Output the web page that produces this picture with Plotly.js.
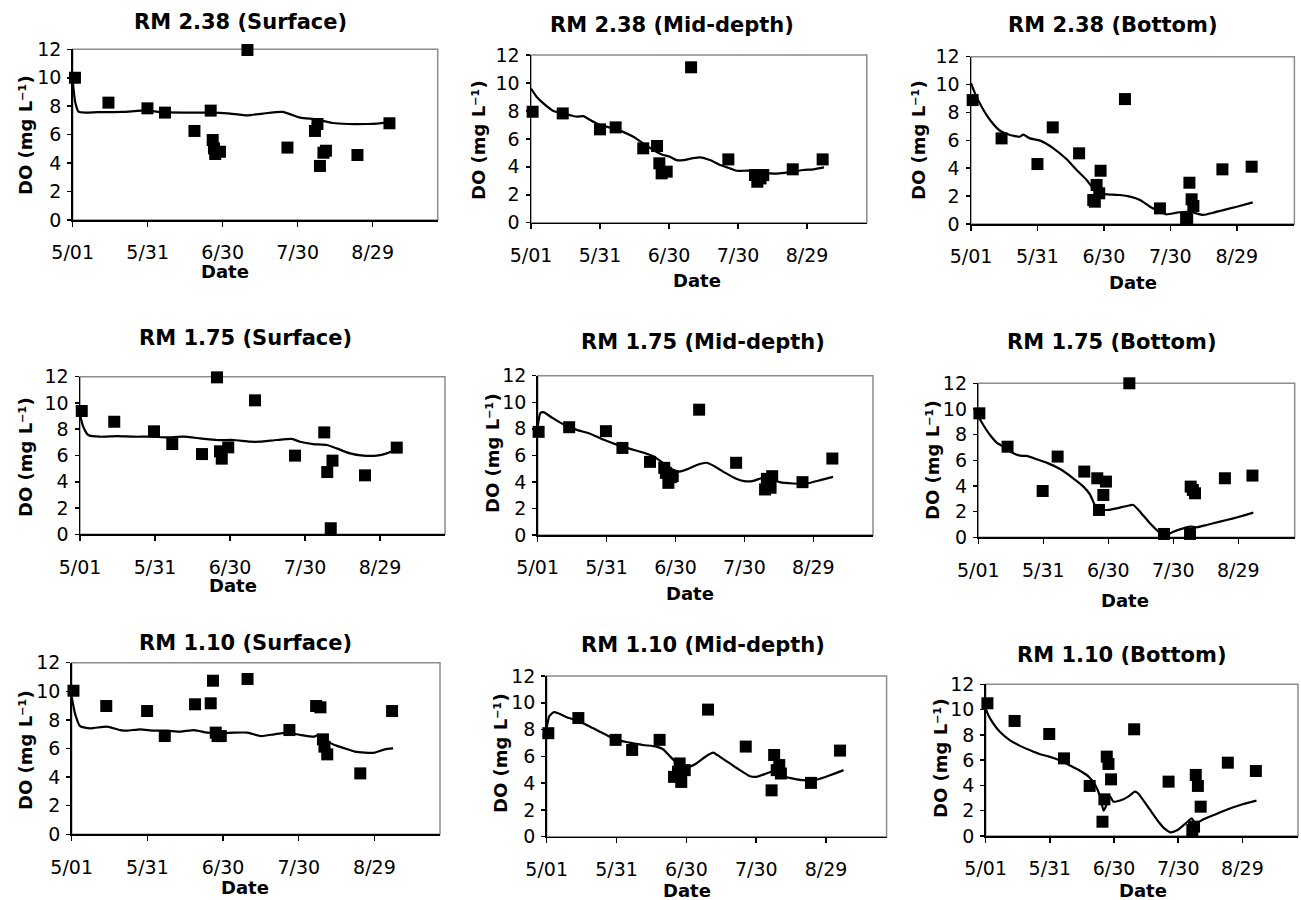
<!DOCTYPE html>
<html>
<head>
<meta charset="utf-8">
<script src="https://cdn.plot.ly/plotly-3.0.1.min.js"></script>
<style>html,body{margin:0;padding:0;background:#fff;}#chart{width:1301px;height:900px;}</style>
</head>
<body>
<div id="chart"></div>
<script>
// ---------- DATA (x = days after 5/01) ----------
const titles = ["RM 2.38 (Surface)", "RM 2.38 (Mid-depth)", "RM 2.38 (Bottom)",
                "RM 1.75 (Surface)", "RM 1.75 (Mid-depth)", "RM 1.75 (Bottom)",
                "RM 1.10 (Surface)", "RM 1.10 (Mid-depth)", "RM 1.10 (Bottom)"];
const tickDays = [0, 30, 60, 90, 120];
const tickText = ["5/01", "5/31", "6/30", "7/30", "8/29"];
const yTicks = [0, 2, 4, 6, 8, 10, 12];
const xTitle = "Date";
const yTitle = "DO (mg L\u207B\u00B9)";

// RM 2.38 Surface
const p1ObsDay = [0.9, 14.3, 29.9, 36.9, 48.7, 55.2, 56.0, 56.5, 57.0, 58.9, 69.9, 85.9, 96.9, 97.9, 98.9, 100.3, 101.3, 113.9, 126.7];
const p1ObsDO  = [10.0, 8.25, 7.85, 7.55, 6.26, 7.69, 5.62, 5.04, 4.64, 4.8, 11.95, 5.09, 6.26, 6.75, 3.8, 4.73, 4.87, 4.57, 6.8];
const p1ModDay = [0, 1, 2.3, 5, 10, 20, 29.6, 35, 45, 55, 62, 70, 76, 84, 91, 97.6, 104, 110, 117.6, 122, 126];
const p1ModDO  = [9.8, 8.3, 7.62, 7.55, 7.58, 7.6, 7.7, 7.58, 7.55, 7.55, 7.5, 7.36, 7.48, 7.6, 7.2, 7.07, 6.82, 6.75, 6.75, 6.78, 6.84];

// RM 2.38 Mid-depth
const p2ObsDay = [0.7, 13.8, 30.0, 36.8, 48.8, 54.8, 55.8, 56.8, 59.0, 69.6, 85.8, 97.4, 98.4, 99.8, 101.0, 113.8, 126.8];
const p2ObsDO  = [7.94, 7.82, 6.68, 6.82, 5.32, 5.49, 4.25, 3.53, 3.65, 11.12, 4.53, 3.41, 2.93, 3.17, 3.41, 3.82, 4.53];
const p2ModDay = [0, 2.5, 5.4, 9.7, 14, 19.9, 22.8, 25.7, 30, 35.8, 40, 44.5, 48.8, 53.2, 57.5, 60.4, 63.3, 66.2, 69.9, 73.5, 77.8, 82.2, 86.5, 89.4, 93.8, 98, 104, 108, 114, 118.4, 122.8, 127.4];
const p2ModDO  = [9.6, 9.0, 8.54, 8.0, 7.82, 7.59, 7.63, 7.35, 6.99, 6.75, 6.5, 6.15, 5.68, 5.2, 4.84, 4.72, 4.48, 4.48, 4.6, 4.68, 4.48, 4.13, 3.89, 3.72, 3.72, 3.72, 3.53, 3.53, 3.65, 3.77, 3.82, 3.96];

// RM 2.38 Bottom
const p3ObsDay = [0.75, 13.8, 30.0, 36.9, 48.8, 55.2, 55.9, 56.7, 57.9, 58.5, 69.5, 85.3, 97.1, 97.6, 98.6, 99.6, 100.4, 113.5, 126.7];
const p3ObsDO  = [8.89, 6.14, 4.3, 6.93, 5.07, 1.72, 1.6, 2.8, 2.2, 3.82, 8.96, 1.12, 0.41, 0.29, 2.96, 1.77, 1.29, 3.92, 4.11];
const p3ModDay = [0, 1.8, 4.8, 8.6, 13.1, 17.6, 22.1, 23.6, 26.6, 31.2, 37.2, 43.2, 47.7, 52.2, 56, 58.2, 61.3, 67.3, 71.8, 76.3, 80.8, 85.3, 88.3, 92.9, 97.4, 100.4, 104.9, 109.4, 113.9, 120, 127.2];
const p3ModDO  = [10.1, 9.37, 8.41, 7.46, 6.69, 6.38, 6.26, 6.41, 6.14, 5.98, 5.43, 4.64, 3.87, 3.16, 2.39, 2.2, 2.13, 2.08, 1.96, 1.72, 1.24, 0.88, 0.69, 0.81, 0.88, 0.81, 0.65, 0.81, 1.0, 1.24, 1.55];

// RM 1.75 Surface
const p4ObsDay = [0.7, 13.7, 29.6, 36.9, 48.8, 54.8, 56.0, 56.7, 59.3, 70.0, 86.0, 97.7, 98.9, 100.3, 101.0, 114.0, 126.7];
const p4ObsDO  = [9.39, 8.57, 7.84, 6.87, 6.11, 11.95, 6.32, 5.76, 6.62, 10.2, 5.99, 7.76, 4.74, 0.46, 5.61, 4.49, 6.6];
const p4ModDay = [0, 1.3, 3.3, 8, 14.7, 21.3, 28, 34.7, 41.3, 48, 54.7, 61.3, 68, 72, 78.7, 84.7, 88, 93.3, 98.7, 102.7, 108, 113.3, 118.7, 122.7, 126];
const p4ModDO  = [9.08, 8.19, 7.56, 7.43, 7.48, 7.43, 7.43, 7.38, 7.43, 7.31, 7.18, 7.18, 7.05, 7.05, 7.18, 7.26, 7.05, 6.87, 6.8, 6.54, 6.16, 5.99, 5.99, 6.16, 6.42];

// RM 1.75 Mid-depth
const p5ObsDay = [0.4, 13.7, 29.7, 36.9, 48.9, 55.1, 55.8, 56.9, 58.0, 58.8, 70.3, 86.4, 99.0, 99.8, 101.4, 102.1, 115.3, 128.3];
const p5ObsDO  = [7.77, 8.12, 7.82, 6.56, 5.51, 5.06, 4.68, 3.93, 4.36, 4.43, 9.44, 5.44, 3.43, 4.23, 3.56, 4.43, 3.98, 5.76];
const p5ModDay = [0, 1.2, 2.7, 6.4, 10.8, 16.7, 22.6, 28.5, 34.4, 40.3, 46.3, 50.7, 55.1, 58.8, 61.8, 65.5, 69.9, 73.6, 77.3, 81.7, 86.2, 89.8, 93.5, 98, 100.9, 105.4, 111.3, 117.2, 123.1, 128.6];
const p5ModDO  = [8.19, 9.19, 9.24, 8.82, 8.37, 7.94, 7.64, 7.19, 6.81, 6.49, 6.19, 5.89, 5.36, 4.93, 4.78, 4.98, 5.31, 5.44, 5.14, 4.68, 4.26, 4.06, 4.06, 4.31, 4.31, 3.98, 3.88, 3.88, 4.13, 4.38];

// RM 1.75 Bottom
const p6ObsDay = [0.5, 13.5, 29.7, 36.6, 48.9, 54.9, 55.7, 57.7, 58.9, 69.7, 85.7, 97.7, 98.0, 99.0, 100.0, 113.8, 126.5];
const p6ObsDO  = [9.66, 7.06, 3.61, 6.29, 5.12, 4.6, 2.13, 3.3, 4.34, 12.0, 0.26, 0.26, 3.95, 3.69, 3.43, 4.6, 4.81];
const p6ModDay = [0, 2.3, 5.4, 8.5, 11.5, 16.2, 19.2, 22.3, 26.9, 31.5, 37.7, 43.8, 48.5, 51.5, 53.8, 56.2, 60, 63.8, 68.5, 71.5, 74.6, 79.2, 83.8, 86.9, 90, 94.6, 97.7, 100.8, 105.4, 111.5, 117.7, 122.3, 126.9];
const p6ModDO  = [9.4, 8.75, 7.97, 7.38, 7.06, 6.55, 6.36, 6.34, 6.08, 5.82, 5.32, 4.6, 3.95, 3.35, 2.52, 2.21, 2.13, 2.26, 2.44, 2.52, 2.0, 1.09, 0.36, 0.18, 0.44, 0.7, 0.83, 0.78, 0.96, 1.22, 1.48, 1.69, 1.92];

// RM 1.10 Surface
const p7ObsDay = [0.7, 13.7, 29.9, 36.9, 48.9, 55.1, 56.0, 57.1, 57.8, 59.1, 69.7, 86.3, 96.9, 98.6, 99.6, 100.2, 101.3, 114.4, 127.0];
const p7ObsDO  = [10.04, 8.97, 8.62, 6.87, 9.09, 9.16, 10.74, 7.11, 6.87, 6.87, 10.86, 7.29, 8.97, 8.88, 6.64, 6.13, 5.59, 4.26, 8.62];
const p7ModDay = [0, 1.3, 3.3, 7.3, 13.9, 19.2, 21.9, 27.2, 32.5, 37.8, 43.1, 48.5, 53.8, 59.1, 64.4, 69.7, 75, 80.3, 85.6, 90.9, 96.2, 97.6, 98.9, 101.5, 104.2, 108.2, 112.2, 116.2, 120.1, 124.1, 127.4];
const p7ModDO  = [9.62, 8.46, 7.57, 7.41, 7.53, 7.29, 7.25, 7.34, 7.25, 7.25, 7.18, 7.29, 7.11, 7.06, 7.11, 7.11, 6.87, 6.99, 7.11, 6.94, 6.83, 6.94, 6.71, 6.48, 6.24, 6.01, 5.78, 5.71, 5.71, 5.94, 6.01];

// RM 1.10 Mid-depth
const p8ObsDay = [0.7, 13.6, 29.6, 36.7, 48.5, 54.7, 56.4, 57.1, 57.8, 59.3, 69.3, 85.5, 96.6, 97.7, 98.8, 99.9, 100.6, 113.5, 126.0];
const p8ObsDO  = [7.73, 8.86, 7.23, 6.48, 7.23, 4.47, 4.85, 5.47, 4.09, 4.97, 9.49, 6.73, 3.46, 6.1, 4.97, 5.35, 4.72, 4.02, 6.43];
const p8ModDay = [0, 1.1, 2.9, 4.7, 8.3, 14.1, 19.8, 25.5, 29.9, 35.6, 41.3, 47.1, 50, 52.8, 55.7, 58.6, 61.4, 64.3, 68.6, 71.5, 74.3, 78.7, 83, 87.3, 90.1, 94.4, 98, 101.6, 105.9, 110.2, 116, 121.7, 127.5];
const p8ModDO  = [8.11, 8.99, 9.29, 9.24, 8.94, 8.61, 8.11, 7.61, 7.23, 7.03, 6.85, 6.73, 6.53, 6.03, 5.52, 5.1, 5.22, 5.47, 6.03, 6.28, 5.98, 5.47, 4.97, 4.52, 4.47, 4.72, 4.92, 4.52, 4.34, 4.22, 4.27, 4.59, 4.97];

// RM 1.10 Bottom
const p9ObsDay = [0.8, 13.5, 29.7, 36.6, 48.6, 54.6, 55.5, 56.6, 57.4, 58.6, 69.4, 85.5, 96.6, 97.4, 98.2, 99.2, 100.5, 113.2, 126.3];
const p9ObsDO  = [10.5, 9.1, 8.07, 6.14, 3.96, 1.13, 2.9, 6.28, 5.7, 4.48, 8.44, 4.3, 0.47, 0.74, 4.83, 3.96, 2.32, 5.8, 5.14];
const p9ModDay = [0, 1.2, 3.5, 6.6, 11.2, 15.8, 20.5, 25.1, 29.7, 34.3, 38.9, 43.5, 48.2, 51.2, 53.5, 55.1, 55.8, 58.2, 59.7, 63.5, 66.6, 69.7, 71.2, 75.8, 80.5, 83.5, 86.6, 89.7, 93.5, 96.3, 97.4, 98.9, 102, 106.6, 111.2, 115.8, 120.5, 126.6];
const p9ModDO  = [10.1, 9.57, 8.91, 8.25, 7.59, 7.15, 6.8, 6.49, 6.28, 6.01, 5.62, 5.22, 4.69, 4.03, 3.11, 2.0, 2.19, 3.11, 2.72, 2.85, 3.11, 3.51, 3.38, 2.32, 1.19, 0.61, 0.29, 0.47, 1.0, 1.4, 1.13, 1.05, 1.34, 1.66, 1.98, 2.27, 2.53, 2.8];

const obsDays = [p1ObsDay, p2ObsDay, p3ObsDay, p4ObsDay, p5ObsDay, p6ObsDay, p7ObsDay, p8ObsDay, p9ObsDay];
const obsDO   = [p1ObsDO, p2ObsDO, p3ObsDO, p4ObsDO, p5ObsDO, p6ObsDO, p7ObsDO, p8ObsDO, p9ObsDO];
const modDays = [p1ModDay, p2ModDay, p3ModDay, p4ModDay, p5ModDay, p6ModDay, p7ModDay, p8ModDay, p9ModDay];
const modDO   = [p1ModDO, p2ModDO, p3ModDO, p4ModDO, p5ModDO, p6ModDO, p7ModDO, p8ModDO, p9ModDO];

// ---------- LAYOUT GEOMETRY (pixels) ----------
const W = 1301, H = 900;
const boxL = [72.7, 531, 971, 80, 537.7, 978.3, 71.7, 546.7, 985.7];
const boxR = [437.7, 866.8, 1294.4, 445, 873, 1294.7, 440, 886.6, 1298];
const boxT = [49.3, 55, 56.7, 376.7, 375.7, 383.3, 662.7, 676, 684.3];
const boxB = [220, 222.7, 224, 534.3, 535, 537.3, 834.3, 836.7, 836];
const titlePos = [[240,22],[672,25],[1113,25],[245,338],[703,342],[1112,342],[245,643],[703,645],[1122,655]];
const yLabPos  = [[25,135],[478,140],[918,140],[25,457],[493,453],[933,460],[25,750],[500,753],[940,758]];
const datePos  = [[225,272],[697,280],[1133,282],[233,585],[690,593],[1125,600],[245,887],[687,890],[1143,890]];

const FONT = "DejaVu Sans";
const px = v => v / W;
const py = v => 1 - v / H;

const traces = [];
const layout = {
  width: W, height: H,
  margin: {l: 0, r: 0, t: 0, b: 0},
  paper_bgcolor: "#ffffff", plot_bgcolor: "#ffffff",
  showlegend: false,
  font: {family: FONT, color: "#000"},
  shapes: [], annotations: []
};

for (let i = 0; i < 9; i++) {
  const s = i === 0 ? "" : String(i + 1);
  const xa = "x" + s, ya = "y" + s;
  traces.push({
    x: modDays[i], y: modDO[i], xaxis: xa, yaxis: ya,
    type: "scatter", mode: "lines",
    line: {color: "#000", width: 2.2, shape: "spline", smoothing: 0.5},
    hoverinfo: "skip"
  });
  traces.push({
    x: obsDays[i], y: obsDO[i], xaxis: xa, yaxis: ya,
    type: "scatter", mode: "markers", cliponaxis: false,
    marker: {symbol: "square", size: 12, color: "#000", line: {width: 0}}
  });
  layout["xaxis" + s] = {
    domain: [px(boxL[i]), px(boxR[i])], anchor: ya,
    range: [0, 146], tickmode: "array", tickvals: tickDays, ticktext: tickText,
    showgrid: false, zeroline: false, showline: true, linecolor: "#000", linewidth: 1.5,
    ticks: "outside", ticklen: 5, tickwidth: 1.5, tickcolor: "#000",
    ticklabelstandoff: 10,
    tickfont: {family: FONT, size: 19, color: "#000"}, fixedrange: true
  };
  layout["yaxis" + s] = {
    domain: [py(boxB[i]), py(boxT[i])], anchor: xa,
    range: [0, 12], tickmode: "array", tickvals: yTicks,
    showgrid: false, zeroline: false, showline: true, linecolor: "#000", linewidth: 1.5,
    ticks: "outside", ticklen: 4, tickwidth: 1.5, tickcolor: "#000",
    ticklabelstandoff: 2,
    tickfont: {family: FONT, size: 19, color: "#000"}, fixedrange: true
  };
  layout.shapes.push({
    type: "rect", xref: "paper", yref: "paper", layer: "below",
    x0: px(boxL[i]), x1: px(boxR[i]), y0: py(boxB[i]), y1: py(boxT[i]),
    line: {color: "#8c8c8c", width: 1.5}, fillcolor: "rgba(0,0,0,0)"
  });
  layout.annotations.push({
    xref: "paper", yref: "paper", x: px(titlePos[i][0]), y: py(titlePos[i][1]),
    xanchor: "center", yanchor: "middle", showarrow: false,
    text: titles[i], font: {family: FONT, size: 21, weight: 700, color: "#000"}
  });
  layout.annotations.push({
    xref: "paper", yref: "paper", x: px(yLabPos[i][0]), y: py(yLabPos[i][1]),
    xanchor: "center", yanchor: "middle", showarrow: false, textangle: -90,
    text: yTitle, font: {family: FONT, size: 18, weight: 700, color: "#000"}
  });
  layout.annotations.push({
    xref: "paper", yref: "paper", x: px(datePos[i][0]), y: py(datePos[i][1]),
    xanchor: "center", yanchor: "middle", showarrow: false,
    text: xTitle, font: {family: FONT, size: 18, weight: 700, color: "#000"}
  });
}

Plotly.newPlot("chart", traces, layout, {displayModeBar: false, staticPlot: true});
</script>
</body>
</html>
